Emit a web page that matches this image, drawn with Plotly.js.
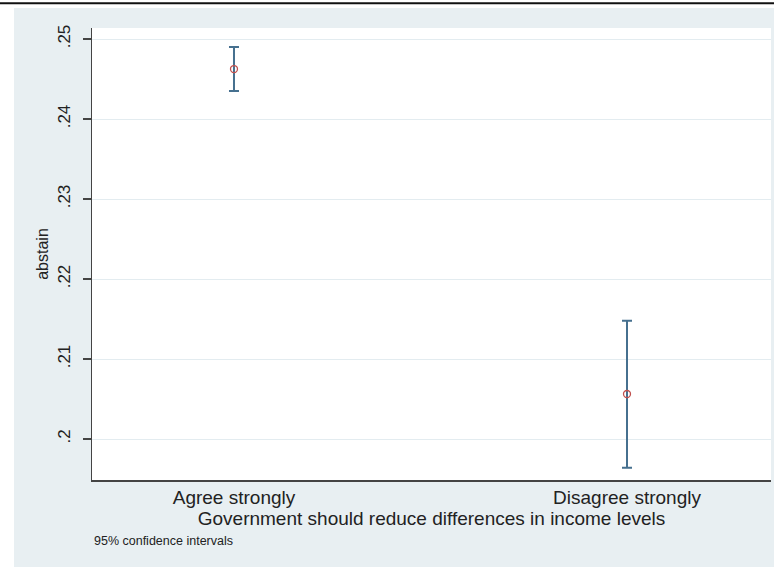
<!DOCTYPE html>
<html>
<head>
<meta charset="utf-8">
<script src="https://cdn.plot.ly/plotly-3.0.1.min.js"></script>
<style>html,body{margin:0;padding:0;background:#fff;}</style>
</head>
<body>
<div id="chart" style="width:774px;height:567px;"></div>
<script>
var categories = ["Agree strongly", "Disagree strongly"];
var xPos = [0, 1];
var means = [0.24625, 0.20563];
var ciHigh = [0.2490, 0.2148];
var ciLow = [0.2435, 0.1964];
var yTickVals = [0.20, 0.21, 0.22, 0.23, 0.24, 0.25];
var yTickText = [".2", ".21", ".22", ".23", ".24", ".25"];

var errPlus = means.map(function(m, i){ return ciHigh[i] - m; });
var errMinus = means.map(function(m, i){ return m - ciLow[i]; });

var trace = {
  x: xPos,
  y: means,
  type: "scatter",
  mode: "markers",
  marker: {symbol: "circle-open", size: 7, color: "#c0504d", line: {width: 1.3, color: "#c0504d"}},
  error_y: {type: "data", symmetric: false, array: errPlus, arrayminus: errMinus,
            color: "#46708f", thickness: 2, width: 5},
  showlegend: false,
  hoverinfo: "x+y"
};

var font = "Liberation Sans, Arial, sans-serif";
var layout = {
  width: 774, height: 567,
  margin: {l: 92, r: 3, t: 28, b: 87},
  paper_bgcolor: "#e8eff2",
  plot_bgcolor: "#ffffff",
  font: {family: font, color: "#222"},
  xaxis: {
    range: [-0.3613, 1.3664],
    tickvals: xPos, ticktext: categories,
    ticks: "", showgrid: false, zeroline: false,
    showline: true, linecolor: "#444", linewidth: 1.5,
    ticklabelstandoff: 0,
    tickfont: {size: 19, color: "#222"},
    title: {text: "Government should reduce differences in income levels", font: {size: 19, color: "#222"}, standoff: 0}
  },
  yaxis: {
    range: [0.19488, 0.25138],
    tickvals: yTickVals, ticktext: yTickText,
    tickangle: -90,
    ticks: "outside", ticklen: 8, tickcolor: "#444", tickwidth: 1.2,
    ticklabelstandoff: 6,
    showgrid: true, gridcolor: "#e3ecf0", gridwidth: 1,
    zeroline: false,
    showline: true, linecolor: "#444", linewidth: 1.5,
    tickfont: {size: 17, color: "#222"},
    title: {text: "abstain", font: {size: 16, color: "#222"}, standoff: 2}
  },
  shapes: [
    {type: "rect", xref: "paper", yref: "paper", x0: -0.2, x1: -0.1149, y0: -0.3, y1: 1.2, fillcolor: "#ffffff", line: {width: 0}, layer: "below"},
    {type: "rect", xref: "paper", yref: "paper", x0: -0.2, x1: 1.1, y0: 1.044, y1: 1.2, fillcolor: "#ffffff", line: {width: 0}, layer: "below"},
    {type: "line", xref: "paper", yref: "paper", x0: -0.2, x1: 1.1, y0: 1.055, y1: 1.055, line: {color: "#111", width: 2}}
  ],
  annotations: [
    {xref: "paper", yref: "paper", x: 0, y: (480 - 541) / 452, xanchor: "left", yanchor: "middle",
     text: "95% confidence intervals", showarrow: false, font: {size: 12.5, color: "#222"}}
  ]
};

Plotly.newPlot("chart", [trace], layout, {displayModeBar: false, staticPlot: true});
</script>
</body>
</html>
